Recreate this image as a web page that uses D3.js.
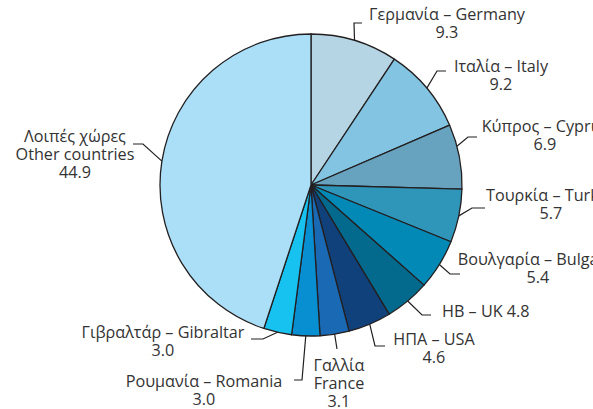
<!DOCTYPE html>
<html>
<head>
<meta charset="utf-8">
<script src="https://cdn.jsdelivr.net/npm/d3@7/dist/d3.min.js"></script>
<style>
  html, body { margin: 0; padding: 0; background: #fff; }
  svg { display: block; }
  text { font-family: "Open Sans", "Noto Sans", sans-serif; font-size: 16.2px; fill: #333; }
</style>
</head>
<body>
<svg id="chart" width="593" height="409"></svg>
<script>
// Share by country (%), clockwise from 12 o'clock
const greekNames = ["Γερμανία", "Ιταλία", "Κύπρος", "Τουρκία", "Βουλγαρία", "ΗΒ", "ΗΠΑ", "Γαλλία", "Ρουμανία", "Γιβραλτάρ", "Λοιπές χώρες"];
const englishNames = ["Germany", "Italy", "Cyprus", "Turkey", "Bulgaria", "UK", "USA", "France", "Romania", "Gibraltar", "Other countries"];
const values = [9.3, 9.2, 6.9, 5.7, 5.4, 4.8, 4.6, 3.1, 3.0, 3.0, 44.9];
const colors = ["#b6d5e4", "#82c4e1", "#67a3be", "#2f96ba", "#0389b6", "#036a8d", "#10417a", "#1a69b4", "#088fd2", "#17c1f0", "#abdff8"];

const width = 593, height = 409;
const cx = 311, cy = 185, radius = 151;

const svg = d3.select("#chart");
const g = svg.append("g").attr("transform", `translate(${cx},${cy})`);

const pie = d3.pie().sort(null).value(d => d.value).startAngle(0).endAngle(2 * Math.PI);
const arc = d3.arc().innerRadius(0).outerRadius(radius);

const data = values.map((v, i) => ({ gr: greekNames[i], en: englishNames[i], value: v, color: colors[i] }));
const arcs = pie(data);

g.selectAll("path.slice")
  .data(arcs)
  .join("path")
  .attr("class", "slice")
  .attr("d", arc)
  .attr("fill", d => d.data.color)
  .attr("stroke", "#231f20")
  .attr("stroke-width", 1.3)
  .attr("stroke-linejoin", "round");

// Label placement: text block position, line format and leader elbows (page coordinates)
const fmt = d3.format(".1f");
const layout = [
  { x: 447, y: 20,  anchor: "middle", lines: d => [`${d.gr} – ${d.en}`, fmt(d.value)], leader: [[354, 23], [362, 23]] },
  { x: 501, y: 72,  anchor: "middle", lines: d => [`${d.gr} – ${d.en}`, fmt(d.value)], leader: [[437, 71], [446, 71]] },
  { x: 545, y: 132, anchor: "middle", lines: d => [`${d.gr} – ${d.en}`, fmt(d.value)], leader: [[468, 137], [477, 137]], shift: -4 },
  { x: 551, y: 201, anchor: "middle", lines: d => [`${d.gr} – ${d.en}`, fmt(d.value)], leader: [[472, 208], [485, 208]] },
  { x: 538, y: 265, anchor: "middle", lines: d => [`${d.gr} – ${d.en}`, fmt(d.value)], leader: [[450, 274], [460, 274]] },
  { x: 442, y: 317, anchor: "start",  lines: d => [`${d.gr} – ${d.en} ${fmt(d.value)}`], leader: [[422, 315], [431, 315]] },
  { x: 434, y: 345, anchor: "middle", lines: d => [`${d.gr} – ${d.en}`, fmt(d.value)], leader: [[375, 346], [385, 346]] },
  { x: 339, y: 371, anchor: "middle", lines: d => [d.gr, d.en, fmt(d.value)], leader: [[337, 349]] },
  { x: 204, y: 387, anchor: "middle", lines: d => [`${d.gr} – ${d.en}`, fmt(d.value)], leader: [[302, 380], [294, 380]] },
  { x: 163, y: 338, anchor: "middle", lines: d => [`${d.gr} – ${d.en}`, fmt(d.value)], leader: [[263, 339], [251, 339]] },
  { x: 75,  y: 142, anchor: "middle", lines: d => [d.gr, d.en, fmt(d.value)], leader: [[143, 144], [133, 144]] }
];

const lineHeight = 18;
const labels = svg.append("g");

arcs.forEach((a, i) => {
  const L = layout[i];
  const mid = (a.startAngle + a.endAngle) / 2 + ((L.shift || 0) * Math.PI / 180);
  const start = [cx + radius * Math.sin(mid), cy - radius * Math.cos(mid)];
  const pts = [start].concat(L.leader);
  labels.append("path")
    .attr("d", d3.line()(pts))
    .attr("fill", "none")
    .attr("stroke", "#231f20")
    .attr("stroke-width", 1.2);

  const t = labels.append("text")
    .attr("x", L.x)
    .attr("y", L.y)
    .attr("text-anchor", L.anchor);
  L.lines(a.data).forEach((s, k) => {
    t.append("tspan").attr("x", L.x).attr("y", L.y + k * lineHeight).text(s);
  });
});
</script>
</body>
</html>
